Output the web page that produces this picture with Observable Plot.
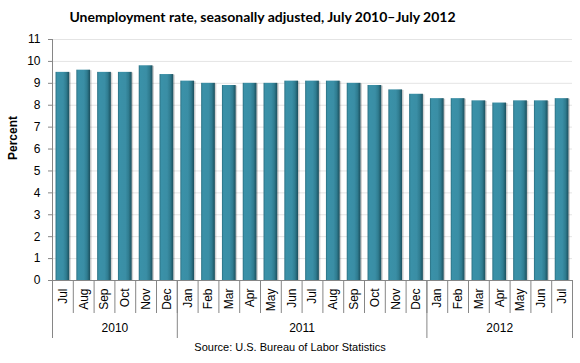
<!DOCTYPE html>
<html>
<head>
<meta charset="utf-8">
<script src="https://cdn.jsdelivr.net/npm/d3@7"></script>
<script src="https://cdn.jsdelivr.net/npm/@observablehq/plot@0.6"></script>
<style>
  html, body { margin: 0; padding: 0; background: #fff; }
  #wrap { position: relative; width: 580px; height: 363px; overflow: hidden; }
  #title { position: absolute; left: 0; top: 8px; width: 525px; text-align: center;
           font-family: Lato, "Open Sans", sans-serif; font-weight: bold; font-size: 14px; color: #000; }
  #chart { position: absolute; left: 0; top: 28px; }
  #source { position: absolute; left: 0; top: 341px; width: 580px; text-align: center;
            font-family: "Liberation Sans", Arial, sans-serif; font-size: 11px; color: #000; }
</style>
</head>
<body>
<div id="wrap">
  <div id="title">Unemployment rate, seasonally adjusted, July 2010–July 2012</div>
  <div id="chart"></div>
  <div id="source">Source: U.S. Bureau of Labor Statistics</div>
</div>
<script>
const months = ["Jul","Aug","Sep","Oct","Nov","Dec",
                "Jan","Feb","Mar","Apr","May","Jun","Jul","Aug","Sep","Oct","Nov","Dec",
                "Jan","Feb","Mar","Apr","May","Jun","Jul"];
const years = ["2010","2010","2010","2010","2010","2010",
               "2011","2011","2011","2011","2011","2011","2011","2011","2011","2011","2011","2011",
               "2012","2012","2012","2012","2012","2012","2012"];
const rates = [9.5, 9.6, 9.5, 9.5, 9.8, 9.4,
               9.1, 9.0, 8.9, 9.0, 9.0, 9.1, 9.1, 9.1, 9.0, 8.9, 8.7, 8.5,
               8.3, 8.3, 8.2, 8.1, 8.2, 8.2, 8.3];
const yTicks = [0,1,2,3,4,5,6,7,8,9,10,11];

const data = rates.map((v, i) => ({i, month: months[i], year: years[i], value: v}));

// year groups derived from data
const yearNames = Array.from(new Set(years));
const yearGroups = yearNames.map(y => {
  const idx = data.filter(d => d.year === y).map(d => d.i);
  return {year: y, first: d3.min(idx), last: d3.max(idx), center: (d3.min(idx) + d3.max(idx)) / 2};
});
const yearBounds = [yearGroups[0].first - 0.5, ...yearGroups.map(g => g.last + 0.5)];
const monthBounds = d3.range(data.length + 1).map(i => i - 0.5);

const axisColor = "#868686";
const font = "'Liberation Sans', Arial, sans-serif";

const chart = Plot.plot({
  width: 580,
  height: 312,
  marginTop: 11,
  marginBottom: 60,
  marginLeft: 52,
  marginRight: 8,
  style: {fontFamily: font, fontSize: "12px", background: "transparent", overflow: "visible"},
  x: {type: "linear", domain: [-0.5, data.length - 0.5], axis: null},
  y: {domain: [0, 11], axis: null},
  marks: [
    Plot.gridY(yTicks.filter(t => t > 0), {stroke: "#e4e4e4", strokeOpacity: 1}),
    // bar shadow
    Plot.rectY(data, {x1: d => d.i - 0.33, x2: d => d.i + 0.33, y: "value", fill: "#000", fillOpacity: 0.18, dx: 1.5, dy: 0.5}),
    Plot.rectY(data, {x1: d => d.i - 0.33, x2: d => d.i + 0.33, y: "value", fill: "url(#barGrad)"}),
    Plot.ruleY([0], {stroke: axisColor}),
    Plot.ruleX([-0.5], {stroke: axisColor}),
    Plot.axisY({ticks: yTicks, tickSize: 4, tickPadding: 8, stroke: axisColor, fill: "#000", label: null, fontSize: 12}),
    Plot.text(["Percent"], {frameAnchor: "left", dx: -39, rotate: -90, fontWeight: "bold", fontSize: 12, fill: "#000"}),
    // month separators
    Plot.axisX({ticks: monthBounds, tickSize: 33, tickFormat: () => "", stroke: axisColor, label: null}),
    // year separators
    Plot.axisX({ticks: yearBounds, tickSize: 58, tickFormat: () => "", stroke: axisColor, label: null}),
    // month labels
    Plot.axisX({ticks: data.map(d => d.i), tickSize: 0, tickPadding: 8, tickRotate: -90,
                tickFormat: i => months[i], fill: "#000", label: null, fontSize: 12}),
    // year labels
    Plot.axisX({ticks: yearGroups.map(g => g.center), tickSize: 0, tickPadding: 43,
                tickFormat: c => yearGroups.find(g => g.center === c).year, fill: "#000", label: null, fontSize: 12})
  ]
});

// bar gradient
const ns = "http://www.w3.org/2000/svg";
const defs = document.createElementNS(ns, "defs");
defs.innerHTML = `
  <linearGradient id="barGrad" x1="0" x2="1" y1="0" y2="0">
    <stop offset="0" stop-color="#2a6e80"/>
    <stop offset="0.12" stop-color="#3a91a8"/>
    <stop offset="0.55" stop-color="#3a8ea5"/>
    <stop offset="0.78" stop-color="#2f7c90"/>
    <stop offset="1" stop-color="#1b4f5d"/>
  </linearGradient>`;
chart.insertBefore(defs, chart.firstChild);
document.getElementById("chart").appendChild(chart);
</script>
</body>
</html>
